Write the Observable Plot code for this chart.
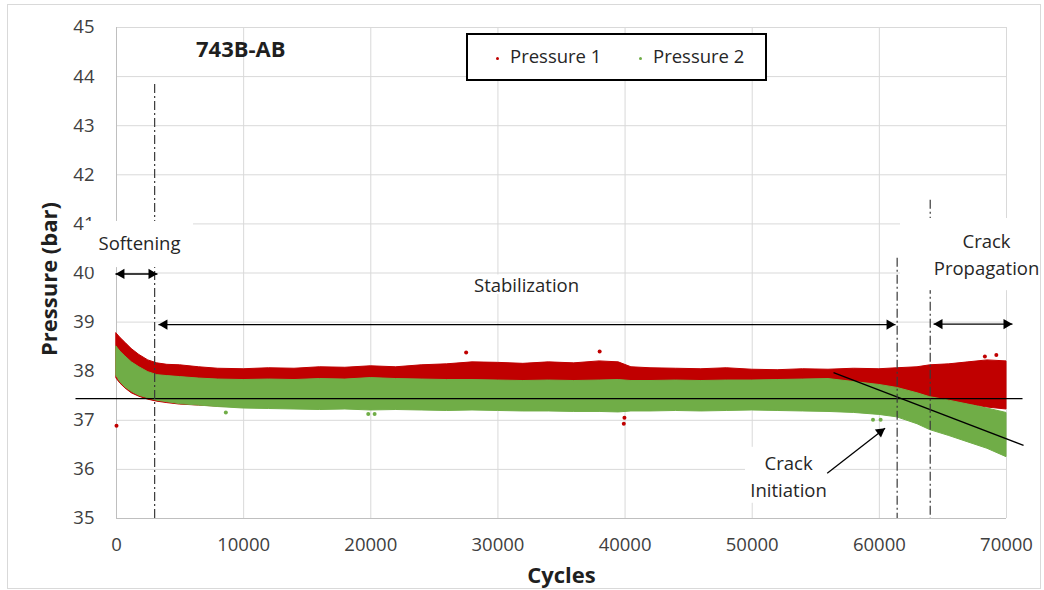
<!DOCTYPE html>
<html>
<head>
<meta charset="utf-8">
<script src="https://cdn.jsdelivr.net/npm/d3@7"></script>
<script src="https://cdn.jsdelivr.net/npm/@observablehq/plot@0.6"></script>
<style>
  html, body { margin: 0; padding: 0; background: #fff; }
  #wrap { position: relative; width: 1044px; height: 590px; font-family: "Open Sans", Lato, sans-serif; }
  #wrap svg { position: absolute; left: 0; top: 0; }
  #border { position: absolute; left: 7px; top: 4px; width: 1032px; height: 583px; border: 1px solid #d9d9d9; pointer-events: none; }
  #title { position: absolute; left: 196px; top: 33px; font-weight: bold; font-size: 22px; color: #1f1f1f; }
  #legend { position: absolute; left: 466px; top: 33px; width: 297px; height: 44px; border: 2px solid #000; background: #fff; }
  .li { position: absolute; top: 8px; font-size: 18.5px; color: #262626; white-space: nowrap; }
  .sw { display: inline-block; width: 3px; height: 3px; border-radius: 50%; margin-right: 11px; vertical-align: middle; }
</style>
</head>
<body>
<div id="wrap">
  <div id="border"></div>
  <div id="title">743B-AB</div>
  <div id="legend">
    <div class="li" style="left:28px"><span class="sw" style="background:#C00000"></span>Pressure 1</div>
    <div class="li" style="left:171px"><span class="sw" style="background:#70AD47"></span>Pressure 2</div>
  </div>
</div>
<script>
// ---- data ----
const cycles = [0, 300, 700, 1200, 1800, 2500, 3200, 4000, 5000, 6500, 8000, 10000, 12000, 14000, 16000, 18000, 20000, 22000, 24000, 26000, 28000, 30000, 32000, 34000, 36000, 38000, 39500, 40500, 42000, 44000, 46000, 48000, 50000, 52000, 54000, 56000, 58000, 60000, 61400, 63000, 64000, 65500, 67000, 68500, 70000];
// Pressure 1 (red) upper / lower envelope of the point cloud
const p1High = [38.77, 38.68, 38.58, 38.45, 38.33, 38.22, 38.16, 38.13, 38.12, 38.08, 38.05, 38.04, 38.06, 38.05, 38.08, 38.07, 38.10, 38.08, 38.12, 38.14, 38.18, 38.17, 38.15, 38.18, 38.16, 38.20, 38.18, 38.08, 38.06, 38.05, 38.04, 38.06, 38.03, 38.02, 38.04, 38.03, 38.05, 38.04, 38.06, 38.08, 38.12, 38.14, 38.18, 38.22, 38.20];
const p1Low  = [37.85, 37.75, 37.65, 37.55, 37.48, 37.42, 37.38, 37.35, 37.32, 37.30, 37.28, 37.26, 37.25, 37.25, 37.24, 37.24, 37.23, 37.23, 37.22, 37.22, 37.22, 37.21, 37.21, 37.21, 37.20, 37.20, 37.20, 37.21, 37.21, 37.22, 37.22, 37.22, 37.23, 37.23, 37.23, 37.23, 37.25, 37.30, 37.40, 37.42, 37.40, 37.37, 37.32, 37.26, 37.22];
// Pressure 2 (green) upper / lower envelope of the point cloud
const p2High = [38.50, 38.40, 38.30, 38.18, 38.08, 37.98, 37.92, 37.90, 37.88, 37.85, 37.83, 37.82, 37.83, 37.82, 37.84, 37.83, 37.86, 37.84, 37.83, 37.82, 37.82, 37.81, 37.80, 37.81, 37.80, 37.81, 37.82, 37.80, 37.80, 37.81, 37.80, 37.81, 37.81, 37.82, 37.83, 37.84, 37.78, 37.72, 37.66, 37.55, 37.47, 37.40, 37.32, 37.24, 37.15];
const p2Low  = [37.90, 37.78, 37.67, 37.58, 37.50, 37.45, 37.40, 37.37, 37.33, 37.30, 37.27, 37.24, 37.23, 37.22, 37.21, 37.22, 37.20, 37.21, 37.20, 37.19, 37.20, 37.19, 37.18, 37.18, 37.17, 37.17, 37.16, 37.18, 37.18, 37.19, 37.18, 37.19, 37.20, 37.19, 37.18, 37.17, 37.15, 37.11, 37.06, 36.92, 36.80, 36.68, 36.55, 36.42, 36.25];
// isolated points outside the clouds
const p1OutX = [0, 39900, 39950, 27500, 38000, 68300, 69200];
const p1OutY = [36.89, 36.93, 37.05, 38.38, 38.40, 38.30, 38.33];
const p2OutX = [8600, 19800, 20300, 59500, 60100];
const p2OutY = [37.16, 37.13, 37.13, 37.01, 37.01];

const xTicks = [0, 10000, 20000, 30000, 40000, 50000, 60000, 70000];
const yTicks = [35, 36, 37, 38, 39, 40, 41, 42, 43, 44, 45];

// phase boundaries (dash-dot lines) and annotations
const boundaryCycles = [3000, 61400, 64000];
const boundaryTop = [43.84, 40.30, 41.48];
const phaseNames = ["Softening", "Stabilization", "Crack\nPropagation", "Crack\nInitiation"];
const phaseLabelX = [1810, 32250, 68430, 52860];
const phaseLabelY = [40.64, 39.79, 40.41, 35.88];
const phaseBoxX1 = [-2440, 27450, 61660, 49470];
const phaseBoxX2 = [6060, 37280, 72360, 56310];
const phaseBoxY1 = [41.05, 39.96, 41.11, 36.45];
const phaseBoxY2 = [40.11, 39.56, 39.64, 35.31];
const spanStart = [-80, 3300, 64260];
const spanEnd = [3220, 61270, 70470];
const spanY = [39.98, 38.95, 38.96];
const pointerFrom = [55900, 35.92];
const pointerTo = [60450, 36.84];
const refLineX = [-3225, 71260];
const refLineY = [37.44, 37.44];
const trendLineX = [56395, 71340];
const trendLineY = [37.97, 36.49];

// ---- tables built from the arrays ----
const band = cycles.map((c, i) => ({c, p1h: p1High[i], p1l: p1Low[i], p2h: p2High[i], p2l: p2Low[i]}));
const out1 = p1OutX.map((c, i) => ({c, v: p1OutY[i]}));
const out2 = p2OutX.map((c, i) => ({c, v: p2OutY[i]}));
const bounds = boundaryCycles.map((c, i) => ({c, top: boundaryTop[i]}));
const labels = phaseNames.map((t, i) => ({t, x: phaseLabelX[i], y: phaseLabelY[i], x1: phaseBoxX1[i], x2: phaseBoxX2[i], y1: phaseBoxY1[i], y2: phaseBoxY2[i]}));
const spans = spanStart.map((s, i) => ({x1: s, x2: spanEnd[i], y: spanY[i]}));
const lines = [
  {x1: refLineX[0], x2: refLineX[1], y1: refLineY[0], y2: refLineY[1]},
  {x1: trendLineX[0], x2: trendLineX[1], y1: trendLineY[0], y2: trendLineY[1]}
];
const pointer = [{x1: pointerFrom[0], y1: pointerFrom[1], x2: pointerTo[0], y2: pointerTo[1]}];

const RED = "#C00000", GREEN = "#70AD47", INK = "#000";

const chart = Plot.plot({
  width: 1044, height: 590,
  marginLeft: 116, marginRight: 38, marginTop: 27, marginBottom: 72,
  style: {fontFamily: "'Open Sans', Lato, sans-serif", background: "transparent", overflow: "visible"},
  x: {domain: [0, 70000]},
  y: {domain: [35, 45]},
  marks: [
    Plot.gridX(xTicks, {stroke: "#d9d9d9", strokeOpacity: 1}),
    Plot.gridY(yTicks, {stroke: "#d9d9d9", strokeOpacity: 1}),
    Plot.ruleX([0], {stroke: "#bfbfbf"}),
    Plot.ruleY([35], {stroke: "#bfbfbf"}),
    Plot.axisX(xTicks, {tickSize: 0, tickPadding: 19, fontSize: 18.5, fill: "#404040", tickFormat: d => String(d), label: null}),
    Plot.axisY(yTicks, {tickSize: 0, tickPadding: 22, fontSize: 18.5, fill: "#404040", label: null}),
    Plot.text(["Cycles"], {frameAnchor: "bottom", textAnchor: "middle", dy: 64, fontSize: 22, fontWeight: "bold", fill: "#1f1f1f"}),
    Plot.text(["Pressure (bar)"], {frameAnchor: "left", textAnchor: "middle", dx: -67, dy: 6, rotate: -90, fontSize: 22, fontWeight: "bold", fill: "#1f1f1f"}),
    // point clouds
    Plot.areaY(band, {x: "c", y1: "p1l", y2: "p1h", fill: RED, stroke: RED, strokeWidth: 1}),
    Plot.dot(out1, {x: "c", y: "v", r: 2, fill: RED}),
    Plot.areaY(band, {x: "c", y1: "p2l", y2: "p2h", fill: GREEN, stroke: GREEN, strokeWidth: 1}),
    Plot.dot(out2, {x: "c", y: "v", r: 2, fill: GREEN}),
    // reference and trend lines
    Plot.link(lines, {x1: "x1", x2: "x2", y1: "y1", y2: "y2", stroke: INK, strokeWidth: 1.3}),
    // phase boundaries
    Plot.ruleX(bounds, {x: "c", y1: "top", y2: 35, stroke: "#3a3a3a", strokeWidth: 1.2, strokeDasharray: "9,3,2,3"}),
    // label backgrounds and labels
    Plot.rect(labels, {x1: "x1", x2: "x2", y1: "y1", y2: "y2", fill: "#fff"}),
    Plot.text(labels, {x: "x", y: "y", text: "t", fontSize: 18.5, fill: "#262626", lineHeight: 1.45}),
    // span arrows
    Plot.link(spans, {x1: "x1", x2: "x2", y1: "y", y2: "y", stroke: INK, strokeWidth: 1.3}),
    Plot.dot(spans, {x: "x1", y: "y", symbol: "triangle", r: 3.8, rotate: -90, dx: 6, fill: INK, stroke: "none"}),
    Plot.dot(spans, {x: "x2", y: "y", symbol: "triangle", r: 3.8, rotate: 90, dx: -6, fill: INK, stroke: "none"}),
    // crack initiation pointer
    Plot.link(pointer, {x1: "x1", y1: "y1", x2: "x2", y2: "y2", stroke: INK, strokeWidth: 1.3}),
    Plot.dot(pointer, {x: "x2", y: "y2", symbol: "triangle", r: 3.8, rotate: 53, dx: -4.8, dy: 3.6, fill: INK, stroke: "none"})
  ]
});
document.getElementById("wrap").insertBefore(chart, document.getElementById("border"));
</script>
</body>
</html>
